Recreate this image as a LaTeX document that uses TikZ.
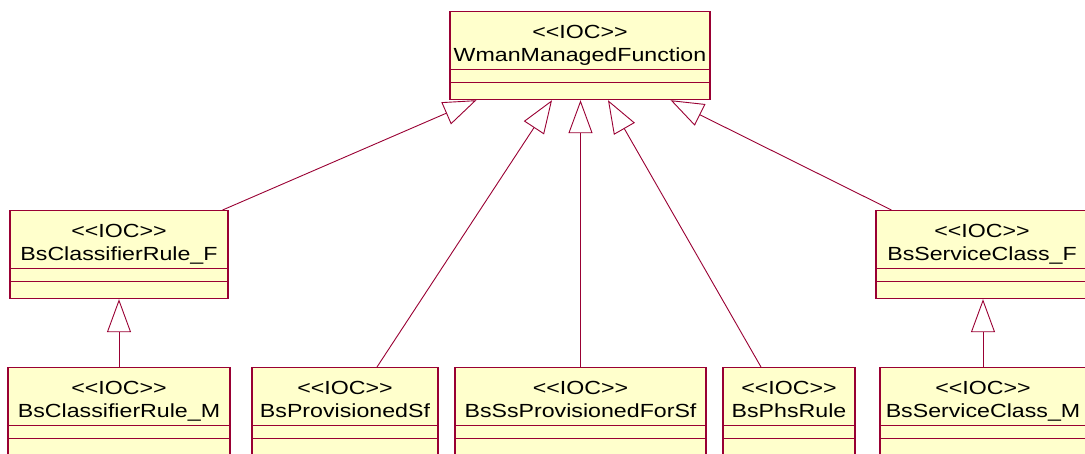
\documentclass[tikz,border=0pt]{standalone}
\usepackage{fontspec}
\setmainfont[FakeStretch=1.22, Ligatures=TeXOff]{Liberation Sans}
\usetikzlibrary{arrows.meta}

\definecolor{iocline}{RGB}{153,0,51}
\definecolor{iocfill}{RGB}{255,255,204}

\tikzset{
  ioc/.style={draw=iocline, fill=iocfill, line width=1.2pt, anchor=north,
    inner sep=0pt, align=center, text height=50pt, text depth=38pt,
    font=\fontsize{19pt}{23.5pt}\selectfont},
  compart/.style={draw=iocline, line width=0.8pt},
  gen/.style={draw=iocline, line width=0.9pt, line join=miter,
    -{Triangle[open, length=33pt, width=24pt]}},
}

\begin{document}
\begin{tikzpicture}[x=1pt, y=-1pt]
\useasboundingbox (0,0) rectangle (1085,453);
\clip (0,0) rectangle (1085,453);

\node[ioc, minimum width=260pt] (wmf) at (580,11) {<<IOC>>\\WmanManagedFunction};

\node[ioc, minimum width=218pt] (crF) at (119,210) {<<IOC>>\\BsClassifierRule\_F};
\node[ioc, minimum width=212pt] (scF) at (982,210) {<<IOC>>\\BsServiceClass\_F};

\node[ioc, minimum width=222pt] (crM) at (119,367) {<<IOC>>\\BsClassifierRule\_M};
\node[ioc, minimum width=186pt] (psf) at (345,367) {<<IOC>>\\BsProvisionedSf};
\node[ioc, minimum width=251pt] (sspf) at (580.5,367) {<<IOC>>\\BsSsProvisionedForSf};
\node[ioc, minimum width=132pt] (phs) at (789,367) {<<IOC>>\\BsPhsRule};
\node[ioc, minimum width=206pt] (scM) at (983,367) {<<IOC>>\\BsServiceClass\_M};

% attribute and operation compartments
\foreach \n in {wmf,crF,scF,crM,psf,sspf,phs,scM} {
  \draw[compart] ([yshift=-58pt]\n.north west) -- ([yshift=-58pt]\n.north east);
  \draw[compart] ([yshift=-71pt]\n.north west) -- ([yshift=-71pt]\n.north east);
}

% generalizations
\draw[gen] ([xshift=-6pt]crF.north east) -- ([xshift=27pt]wmf.south west);
\draw[gen] ([xshift=32pt]psf.north) -- ([xshift=-28pt]wmf.south);
\draw[gen] (sspf.north) -- (sspf.north |- wmf.south);
\draw[gen] ([xshift=-28pt]phs.north) -- ([xshift=28pt]wmf.south);
\draw[gen] ([xshift=16pt]scF.north west) -- ([xshift=-40pt]wmf.south east);

\draw[gen] (crM.north) -- (crF.south);
\draw[gen] (scM.north) -- (scM.north |- scF.south);
\end{tikzpicture}
\end{document}
